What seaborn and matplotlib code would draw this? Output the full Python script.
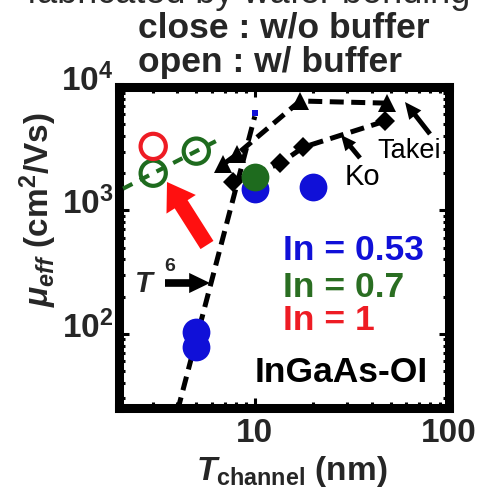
import numpy as np
import pandas as pd
import matplotlib
matplotlib.use("Agg")
import matplotlib.pyplot as plt
import matplotlib.transforms as mtransforms
import seaborn as sns
from matplotlib.ticker import FixedLocator, FuncFormatter, LogLocator, NullFormatter

sns.set_theme(style="ticks")
plt.rcParams["font.family"] = ["Liberation Sans", "DejaVu Sans"]
plt.rcParams["mathtext.fontset"] = "custom"
plt.rcParams["mathtext.rm"] = "Liberation Sans:bold"
plt.rcParams["mathtext.it"] = "Liberation Sans:italic:bold"
plt.rcParams["mathtext.bf"] = "Liberation Sans:bold"

# ---- data -------------------------------------------------------------
# In = 0.53 (without buffer)
in053_t = [5, 5, 10, 20]
in053_mu = [104, 78, 1480, 1540]
in053_small_t = [10]
in053_small_mu = [6150]
# In = 0.7
in07_closed_t = [10]
in07_closed_mu = [1850]
in07_open_t = [3, 5]
in07_open_mu = [2000, 3020]
# In = 1 (with buffer)
in1_open_t = [3]
in1_open_mu = [3300]
# literature data
takei_t = [6.9, 8.1, 17.1, 48]
takei_mu = [2370, 2850, 7700, 7400]
ko_t = [7.7, 13.5, 17.8, 47]
ko_mu = [1690, 2400, 3250, 5300]
# T^6 guide anchored at one reference point
t6_ref_t, t6_ref_mu = 5.89, 241
t6_span = [4.0, 10.0]

BLUE = "#1010d8"
GREEN = "#1e6b1e"
RED = "#ee1c24"
TXT_GREEN = "#2a6e22"

W, H = 481, 499
fig = plt.figure(figsize=(W / 100, H / 100), dpi=100)
ax = fig.add_axes([119 / W, 1 - 408 / H, 330 / W, 321 / H])
ax.set_xscale("log")
ax.set_yscale("log")
ax.set_xlim(2, 100)
ax.set_ylim(25, 1e4)


def px(x, y):
    return (x / W, 1 - y / H)


# T^6 guide line
t6_t = np.geomspace(t6_span[0], t6_span[1], 60)
t6_mu = t6_ref_mu * (t6_t / t6_ref_t) ** 6
sns.lineplot(x=t6_t, y=t6_mu, color="black", lw=3.6, sort=False, ax=ax, zorder=2)
ax.lines[-1].set_dashes((2.8, 1.5))

# Takei and Ko literature curves
sns.lineplot(x=takei_t, y=takei_mu, color="black", lw=3.6, marker="^",
             markersize=13, markeredgewidth=0, sort=False, ax=ax, zorder=2)
ax.lines[-1].set_dashes((2.8, 1.5))
sns.lineplot(x=ko_t, y=ko_mu, color="black", lw=3.6, marker="D",
             markersize=10, markeredgewidth=0, sort=False, ax=ax, zorder=2)
ax.lines[-1].set_dashes((2.8, 1.5))

# green guide through the open In=0.7 points, extended in log space
lt = np.log10(in07_open_t)
lm = np.log10(in07_open_mu)
slope = (lm[1] - lm[0]) / (lt[1] - lt[0])
g_t = np.array([2.1, 6.5])
g_mu = 10 ** (lm[0] + slope * (np.log10(g_t) - lt[0]))
sns.lineplot(x=g_t, y=g_mu, color=GREEN, lw=3.0, sort=False, ax=ax, zorder=3)
ax.lines[-1].set_dashes((2.5, 2.0))

# In = 0.53 filled
sns.scatterplot(x=in053_t, y=in053_mu, color=BLUE, s=400, linewidth=0, ax=ax, zorder=4)
sns.scatterplot(x=in053_small_t, y=in053_small_mu, color=BLUE, s=20, marker="s",
                linewidth=0, ax=ax, zorder=4)
# In = 0.7 filled
sns.scatterplot(x=in07_closed_t, y=in07_closed_mu, color=GREEN, s=400, linewidth=0,
                ax=ax, zorder=5)
# open circles
sns.scatterplot(x=in07_open_t, y=in07_open_mu, color=GREEN, s=330, ax=ax, zorder=5)
coll = ax.collections[-1]
coll.set_facecolor("none"); coll.set_edgecolor(GREEN); coll.set_linewidth(3)
sns.scatterplot(x=in1_open_t, y=in1_open_mu, color=RED, s=330, ax=ax, zorder=5)
coll = ax.collections[-1]
coll.set_facecolor("none"); coll.set_edgecolor(RED); coll.set_linewidth(3)

# ---- axes styling -----------------------------------------------------
for sp in ax.spines.values():
    sp.set_linewidth(6.5)
    sp.set_color("black")
ax.tick_params(which="both", direction="in", top=True, right=True, width=2.2,
               color="black")
ax.tick_params(which="major", length=7, labelsize=24, pad=7)
ax.tick_params(which="minor", length=4)
ax.tick_params(axis="y", pad=4)
ax.xaxis.set_major_locator(FixedLocator([10, 100]))
ax.xaxis.set_major_formatter(FuncFormatter(lambda v, p: f"{v:g}"))
ax.xaxis.set_minor_locator(LogLocator(base=10, subs=np.arange(2, 10)))
ax.xaxis.set_minor_formatter(NullFormatter())
ax.yaxis.set_major_locator(FixedLocator([1e2, 1e3, 1e4]))
ax.yaxis.set_major_formatter(FuncFormatter(lambda v, p: r"$\mathdefault{10^{%d}}$" % round(np.log10(v))))
ax.yaxis.set_minor_locator(LogLocator(base=10, subs=np.arange(2, 10)))
ax.yaxis.set_minor_formatter(NullFormatter())
ax.set_xlabel("")
ax.set_ylabel("")
fig.canvas.draw()
lift = mtransforms.ScaledTranslation(0, 7 / 72, fig.dpi_scale_trans)
for lab in ax.get_yticklabels():
    lab.set_fontweight("bold")
    lab.set_transform(lab.get_transform() + lift)
for lab in ax.get_xticklabels():
    lab.set_fontweight("bold")

# ---- texts ------------------------------------------------------------
big = dict(fontsize=25.5, fontweight="bold")
fig.text(*px(249, 3), "fabricated by wafer bonding", ha="center", va="baseline",
         color="#2a2a2a", fontsize=26)
fig.text(*px(138, 38), "close : w/o buffer", ha="left", va="baseline", **big)
fig.text(*px(138, 72), "open : w/ buffer", ha="left", va="baseline", **big)
fig.text(*px(38, 210), r"$\mu_{eff}$ (cm$^{2}$/Vs)", rotation=90, ha="center",
         va="center", fontsize=24, fontweight="bold")
fig.text(*px(292, 480), r"$T_{\mathrm{channel}}$ (nm)", ha="center", va="baseline",
         fontsize=24, fontweight="bold")

fig.text(*px(283, 260), "In = 0.53", color=BLUE, ha="left", va="baseline", **big)
fig.text(*px(283, 297), "In = 0.7", color=TXT_GREEN, ha="left", va="baseline", **big)
fig.text(*px(283, 330), "In = 1", color=RED, ha="left", va="baseline", **big)
fig.text(*px(428, 382), "InGaAs-OI", color="black", ha="right", va="baseline", **big)
fig.text(*px(377, 158), "Takei", color="black", ha="left", va="baseline",
         fontsize=19.5)
fig.text(*px(345, 185), "Ko", color="black", ha="left", va="baseline", fontsize=21)
fig.text(*px(135, 292), "T", fontstyle="italic", fontweight="bold", fontsize=21,
         ha="left", va="baseline")
fig.text(*px(164, 271), "6", fontweight="bold", fontsize=14, ha="left", va="baseline")

# arrows
def arrow(tail, tip, color, hl, hw, tw):
    ax.annotate("", xy=px(*tip), xycoords="figure fraction",
                xytext=px(*tail), textcoords="figure fraction",
                arrowprops=dict(arrowstyle=f"simple,head_length={hl},head_width={hw},tail_width={tw}",
                                color=color, mutation_scale=1, shrinkA=0, shrinkB=0, lw=0),
                zorder=6, annotation_clip=False)

arrow((165, 283), (210, 283), "black", 15, 14.5, 5.5)
arrow((207, 245), (167, 182), "#ff1010", 19, 25, 11)
arrow((430, 134), (405, 102), "black", 12, 11, 3.5)
arrow((360, 158), (341, 135), "black", 11, 10, 3.5)

fig.savefig("out.png", dpi=100)
